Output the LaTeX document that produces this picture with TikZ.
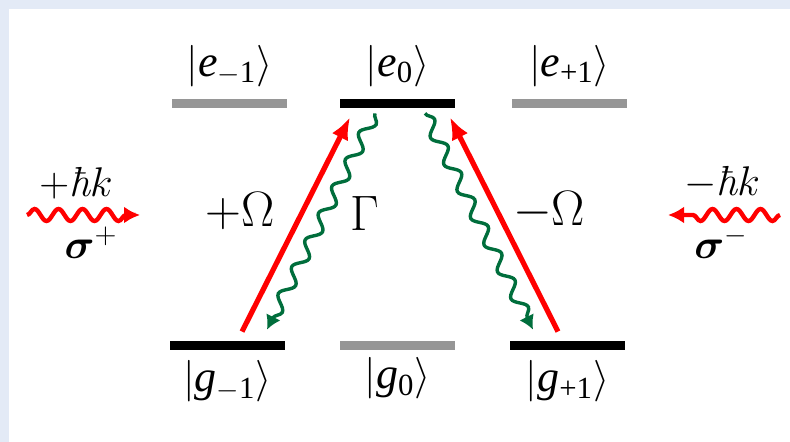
\documentclass[tikz,border=0pt]{standalone}
\usepackage{amsmath}
\usepackage{fontspec}
\usetikzlibrary{positioning,arrows.meta,decorations.pathmorphing}
\newfontfamily\ketfont{Liberation Serif}
\newcommand{\ketlab}[2]{{\ketfont$|$\textit{#1}\textsubscript{#2}$\rangle$}}
\definecolor{framebg}{RGB}{227,234,246}
\definecolor{levgray}{RGB}{150,150,150}
\definecolor{decaygreen}{RGB}{0,110,60}

\begin{document}
\begin{tikzpicture}[x=0.5pt, y=-0.5pt, font=\fontsize{24}{28}\selectfont,
  every node/.style={inner sep=1pt},
  level/.style={fill=#1, minimum width=57.5pt, minimum height=4.5pt, inner sep=0pt},
  ketnode/.style={font=\fontsize{22}{26}\selectfont},
  beamlabel/.style={font=\fontsize{21}{25}\selectfont},
  pump/.style={red, line width=2.6pt, -{Latex[length=11pt,width=9pt]}},
  decay/.style={decaygreen, line width=1.7pt, decorate,
    decoration={snake, amplitude=3pt, segment length=15pt, post length=6pt},
    -{Latex[length=7pt,width=8pt]}},
  photon/.style={red, line width=2.2pt, decorate,
    decoration={snake, amplitude=3pt, segment length=12pt, post length=7pt},
    -{Latex[length=8pt,width=8.5pt]}}]

  \useasboundingbox (0,0) rectangle (790,442);
  \fill[framebg] (0,0) rectangle (790,442);
  \fill[white] (9,9) rectangle (790,442);

  \node[level=levgray] (em) at (229.5,104) {};
  \node[level=black]   (e0) at (397.5,104) {};
  \node[level=levgray] (ep) at (569.5,104) {};
  \node[level=black]   (gm) at (227.5,345) {};
  \node[level=levgray] (g0) at (397.5,345) {};
  \node[level=black]   (gp) at (567.5,345) {};

  \node[ketnode, above=5pt of em] (lem) {\ketlab{e}{$-$1}};
  \node[ketnode, above=5pt of e0] (le0) {\ketlab{e}{0}};
  \node[ketnode, above=5pt of ep] (lep) {\ketlab{e}{+1}};
  \node[ketnode, below=4.25pt of gm] (lgm) {\ketlab{g}{$-$1}};
  \node[ketnode, below=2.75pt of g0] (lg0) {\ketlab{g}{0}};
  \node[ketnode, below=4.25pt of gp] (lgp) {\ketlab{g}{+1}};

  \draw[pump] ([shift={(14.5,-8.5)}]gm.north) -- ([shift={(-47.5,8.5)}]e0.south);
  \draw[pump] ([shift={(-9.5,-8.5)}]gp.north) -- ([shift={(52.5,8.5)}]e0.south);

  \draw[decay] ([shift={(-22.5,4.5)}]e0.south) -- ([shift={(39.5,-10.5)}]gm.north);
  \draw[decay] ([shift={(27.5,4.5)}]e0.south) -- ([shift={(-34.5,-10.5)}]gp.north);

  \node (rabip) at (240,211) {$+\Omega$};
  \node (gam) at (365,214) {$\Gamma$};
  \node (rabim) at (549,211) {$-\Omega$};

  \coordinate (plin) at (27,215);
  \coordinate (plout) at (140,215);
  \draw[photon] (plin) -- (plout);
  \node[beamlabel] (kplus) at (76,183) {$+\textit{ħ}k$};
  \node[beamlabel] (splus) at (91,243) {$\boldsymbol{\sigma}^+$};

  \coordinate (prin) at (780,215);
  \coordinate (prout) at (668,215);
  \draw[photon] (prin) -- (prout);
  \node[beamlabel] (kminus) at (722,183) {$-\textit{ħ}k$};
  \node[beamlabel] (sminus) at (721,243) {$\boldsymbol{\sigma}^-$};

\end{tikzpicture}
\end{document}
